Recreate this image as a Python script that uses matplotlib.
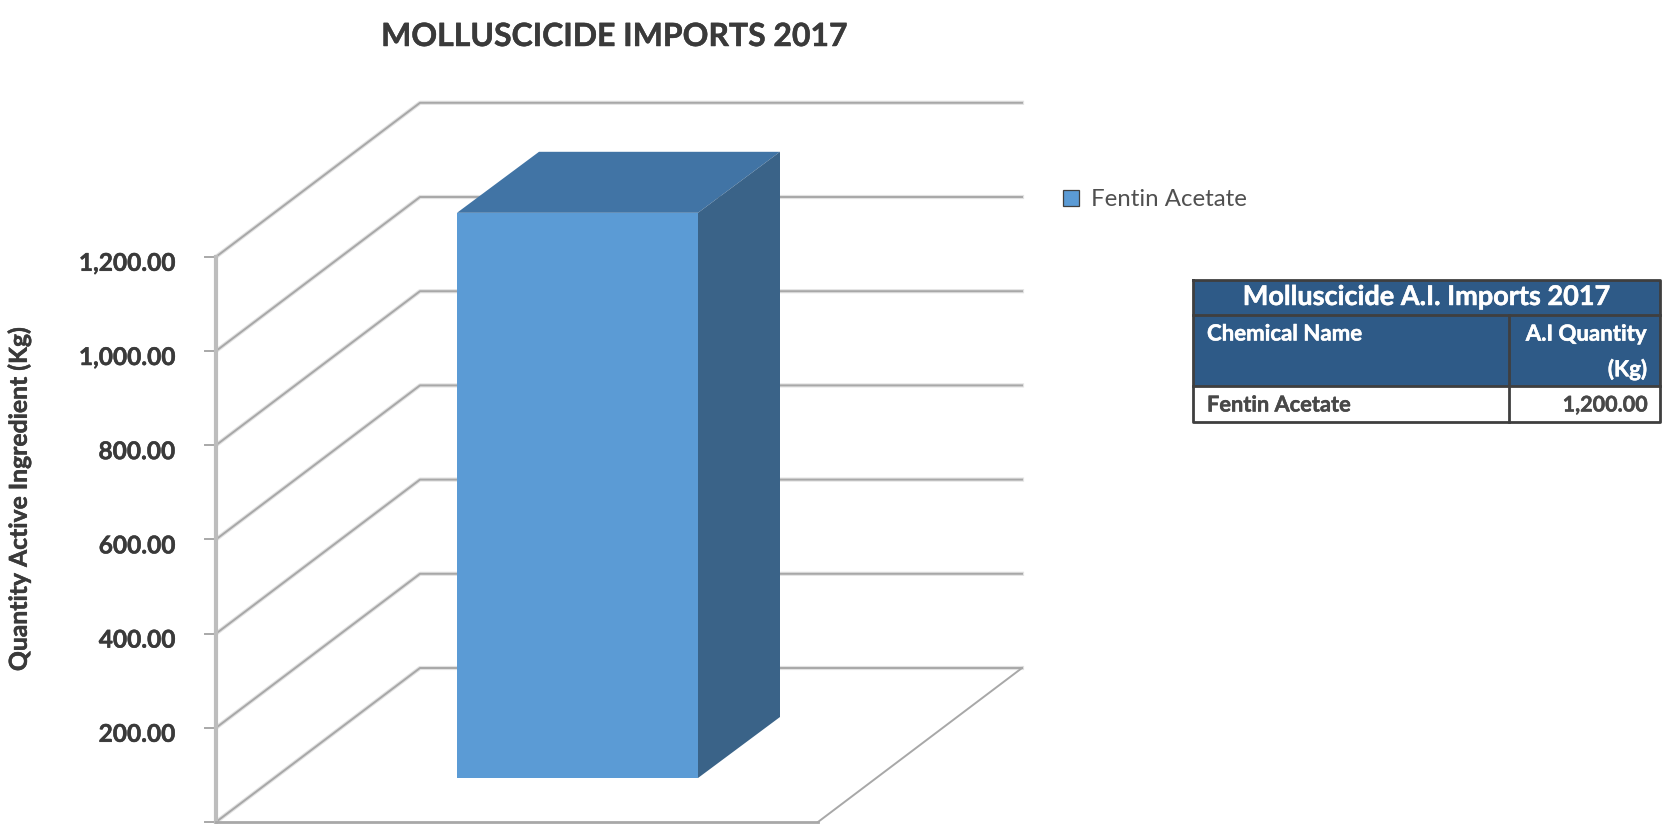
import matplotlib
matplotlib.use("Agg")
import matplotlib.pyplot as plt
import matplotlib.patheffects as pe
from matplotlib.patches import Polygon, Rectangle

plt.rcParams["font.family"] = ["Lato", "DejaVu Sans"]

# data
chemicals = ["Fentin Acetate"]
quantities = [1200.0]
y_ticks = [0, 200, 400, 600, 800, 1000, 1200]
table_title = "Molluscicide A.I. Imports 2017"
table_header = ["Chemical Name", "A.I Quantity\n(Kg)"]

W, H = 1663, 824
Y0_PX = 822.0          # pixel row of value 0 on the front wall
PX_PER_UNIT = 94.2 / 200
WALL_X = 216.0
FLOOR_DX, FLOOR_DY = 204.0, 154.0
RIGHT_X = 1022.0

GRID = "#a8a8a8"
HALO = "#e2e2e2"
TEXT = "#3a3a3a"
FRONT = "#5b9bd5"
TOP = "#4174a5"
SIDE = "#3a6388"
HEAD = "#2e5a87"
EDGE = "#3f3f3f"

fig = plt.figure(figsize=(W / 100, H / 100), dpi=100)
ax = fig.add_axes([0, 0, 1, 1])
ax.set_xlim(0, W)
# y axis is in data units, so marks follow the values
ax.set_ylim((Y0_PX - H) / PX_PER_UNIT, Y0_PX / PX_PER_UNIT)
ax.axis("off")

depth = FLOOR_DY / PX_PER_UNIT


def py(p):
    return (Y0_PX - p) / PX_PER_UNIT


def bold_text(x, y, s, color=TEXT, extra=0.35, **kw):
    # lato bold is a bit thin next to the original, thicken it slightly
    t = ax.text(x, y, s, fontweight="bold", color=color, zorder=6, **kw)
    t.set_path_effects([pe.withStroke(linewidth=extra, foreground=color)])
    return t


# walls + floor
for v in y_ticks:
    xs = [WALL_X, WALL_X + FLOOR_DX, RIGHT_X]
    ys = [v, v + depth, v + depth]
    ax.plot(xs, ys, color=HALO, lw=3, zorder=0.5)
    ax.plot(xs, ys, color=GRID, lw=1.4, solid_joinstyle="round", zorder=1)
    ax.plot([WALL_X - 11, WALL_X], [v, v], color=GRID, lw=1.4, zorder=1)
    if v > 0:
        bold_text(175, v - 6.5 / PX_PER_UNIT, f"{v:,.2f}", ha="right", va="center", fontsize=17.6)
ax.plot([WALL_X, WALL_X], [y_ticks[0] - 5, y_ticks[-1]], color="#bdbdbd", lw=3, zorder=1)
ax.plot([RIGHT_X, RIGHT_X - FLOOR_DX], [depth, 0], color=GRID, lw=1.4, zorder=1)
ax.plot([WALL_X, RIGHT_X - FLOOR_DX], [0, 0], color=GRID, lw=2, zorder=1)

# 3d bar
bx0, bx1 = 457.0, 698.0
bar_base = py(778.0)
bdx = 82.0
bdy = 61.0 / PX_PER_UNIT
top = bar_base + quantities[0]
ax.add_patch(Polygon([(bx0, top), (bx1, top), (bx1 + bdx, top + bdy), (bx0 + bdx, top + bdy)],
                     fc=TOP, ec="none", zorder=3))
ax.add_patch(Polygon([(bx1, bar_base), (bx1 + bdx, bar_base + bdy), (bx1 + bdx, top + bdy), (bx1, top)],
                     fc=SIDE, ec="none", zorder=3))
ax.add_patch(Rectangle((bx0, bar_base), bx1 - bx0, quantities[0], fc=FRONT, ec="none", zorder=4))

bold_text(615, py(36.5), "MOLLUSCICIDE IMPORTS 2017", ha="center", va="center", fontsize=23)
bold_text(19, py(499), "Quantity Active Ingredient (Kg)", rotation=90, ha="center", va="center",
          fontsize=17.8)

# legend
ax.add_patch(Rectangle((1063, py(206)), 16, 16 / PX_PER_UNIT, fc=FRONT, ec=EDGE, lw=0.9, zorder=4))
ax.text(1091, py(199), chemicals[0], ha="left", va="center", fontsize=17.3, color="#505050")

# table
tx0, tx1, tx2 = 1193, 1509, 1660
rows = [280, 315, 386, 422]
ax.add_patch(Rectangle((tx0, py(rows[2])), tx2 - tx0, (rows[2] - rows[0]) / PX_PER_UNIT, fc=HEAD, ec="none", zorder=2))
ax.plot([tx0, tx2, tx2, tx0, tx0], [py(rows[0]), py(rows[0]), py(rows[3]), py(rows[3]), py(rows[0])],
        color=EDGE, lw=2, zorder=5)
for r in rows[1:3]:
    ax.plot([tx0, tx2], [py(r), py(r)], color=EDGE, lw=2, zorder=5)
ax.plot([tx1, tx1], [py(rows[1]), py(rows[3])], color=EDGE, lw=2, zorder=5)

bold_text((tx0 + tx2) / 2, py(297), table_title, color="white", ha="center", va="center", fontsize=19.5)
bold_text(1207, py(334), table_header[0], color="white", ha="left", va="center", fontsize=16)
bold_text(1647, py(352), table_header[1], color="white", ha="right", va="center", fontsize=16,
          linespacing=1.75)
bold_text(1207, py(405), chemicals[0], color="#484848", ha="left", va="center", fontsize=15.7)
bold_text(1647, py(405), f"{quantities[0]:,.2f}", color="#484848", ha="right", va="center", fontsize=15.5)

fig.savefig("out.png", dpi=100, facecolor="white")
